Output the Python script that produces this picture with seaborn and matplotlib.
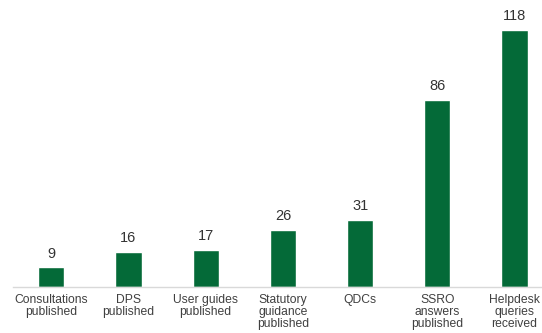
import matplotlib
matplotlib.use("Agg")
import matplotlib.pyplot as plt
import seaborn as sns
import pandas as pd

categories = [
    "Consultations\npublished",
    "DPS\npublished",
    "User guides\npublished",
    "Statutory\nguidance\npublished",
    "QDCs",
    "SSRO\nanswers\npublished",
    "Helpdesk\nqueries\nreceived",
]
values = [9, 16, 17, 26, 31, 86, 118]

sns.set_theme(style="white")
plt.rcParams["font.family"] = ["Liberation Sans", "DejaVu Sans"]

df = pd.DataFrame({"category": categories, "value": values})

fig = plt.figure(figsize=(5.42, 3.33), dpi=100)
ax = fig.add_axes([0.0234, 0.138, 0.9766, 0.85])

sns.barplot(data=df, x="category", y="value", color="#046a38",
            width=0.34, saturation=1, ax=ax)

for patch, v in zip(ax.patches, values):
    ax.annotate(str(v), (patch.get_x() + patch.get_width() / 2, patch.get_height()),
                xytext=(0, 5), textcoords="offset points",
                ha="center", va="bottom", fontsize=10.5, color="#333333")

ax.set_xlim(-0.5, 6.356)
ax.set_ylim(0, 130)
ax.set_xlabel("")
ax.set_ylabel("")
ax.set_yticks([])
for side in ["top", "right", "left"]:
    ax.spines[side].set_visible(False)
ax.spines["bottom"].set_color("#d9d9d9")
ax.spines["bottom"].set_linewidth(1.0)
ax.tick_params(axis="x", length=0, pad=5, labelsize=8.7, labelcolor="#404040")
for lbl in ax.get_xticklabels():
    lbl.set_linespacing(1.0)
    lbl.set_verticalalignment("top")

fig.savefig("out.png", dpi=100)
